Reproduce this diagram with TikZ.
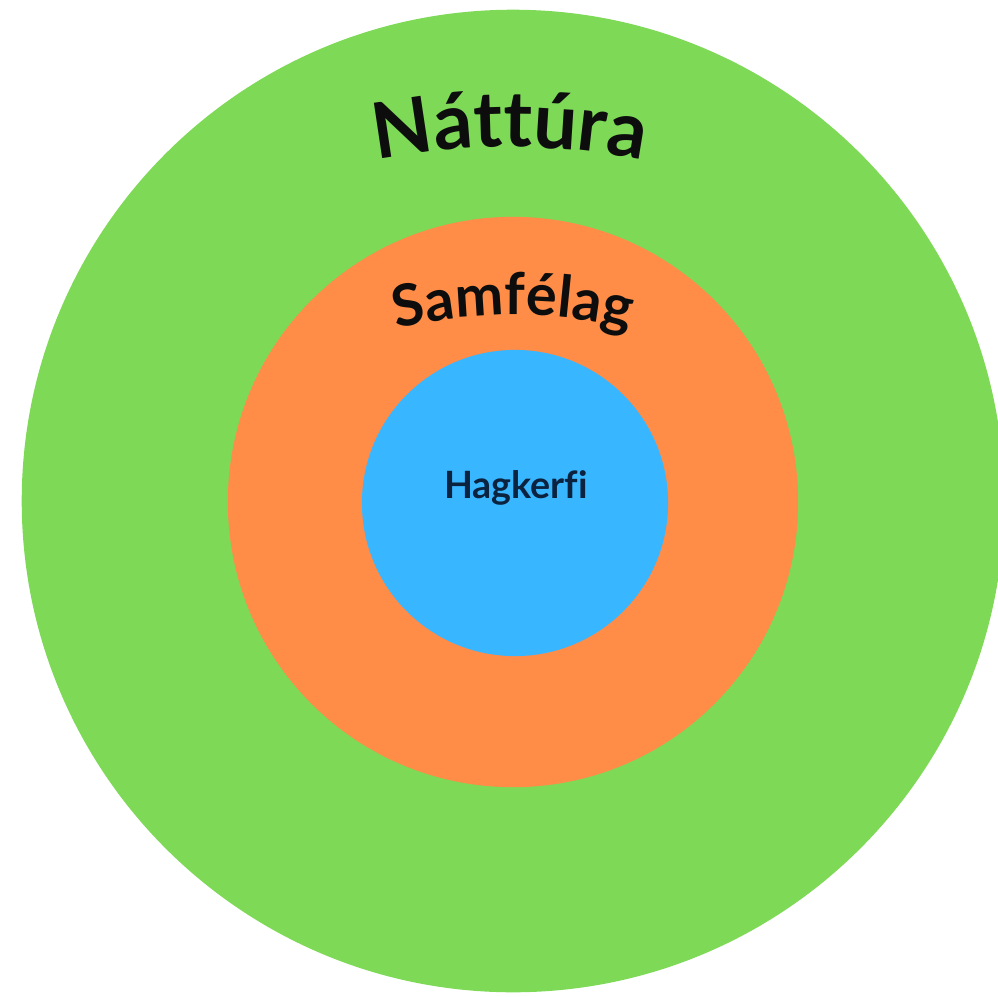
\documentclass[tikz,border=0pt]{standalone}
\usepackage{fontspec}
\setmainfont{Lato}[Ligatures=NoCommon]
\usepackage{xcolor}
\usepackage{tikz}
\usetikzlibrary{positioning, decorations.text}
\definecolor{naturegreen}{HTML}{7ED957}
\definecolor{societyorange}{HTML}{FF8C47}
\definecolor{economyblue}{HTML}{38B6FF}
\definecolor{economytext}{HTML}{0C2340}
\newcommand{\natfont}{\fontsize{22}{23}\selectfont\bfseries}
\newcommand{\samfont}{\fontsize{16.4}{17}\selectfont\bfseries}
\tikzset{
    ring/.style={
        circle, inner sep=0pt, draw=none
    },
    % Ring labels
    arclabel/.style={decorate, decoration={text along path, text align=center, text color=black!95}},
    corelabel/.style={text=economytext, font=\fontsize{10.7}{11}\selectfont\bfseries, anchor=base}
}

\begin{document}
\begin{tikzpicture}[x=0.01cm, y=0.01cm]
        \useasboundingbox (0,0) rectangle (998,996);
        \clip (0,0) rectangle (998,996);
        \node (natt) [ring, fill=naturegreen, minimum size=9.82cm] at (513,495) {};
        \node (sam) [ring, fill=societyorange, minimum size=5.70cm] at (513,494) {};
        \node (hag) [ring, fill=economyblue, minimum size=3.06cm] at (515,493) {};
        \node (hagtext) [corelabel] at (516,498) {Hagkerfi};
        
        \path [arclabel, decoration={text={|\natfont|Náttúra}}] (510,149) ++(115:700) arc (115:65:700);
        \path [arclabel, decoration={text={|\samfont|Samfélag}}] (513,181) ++(120:500) arc (120:60:500);
    \end{tikzpicture}
\end{document}
